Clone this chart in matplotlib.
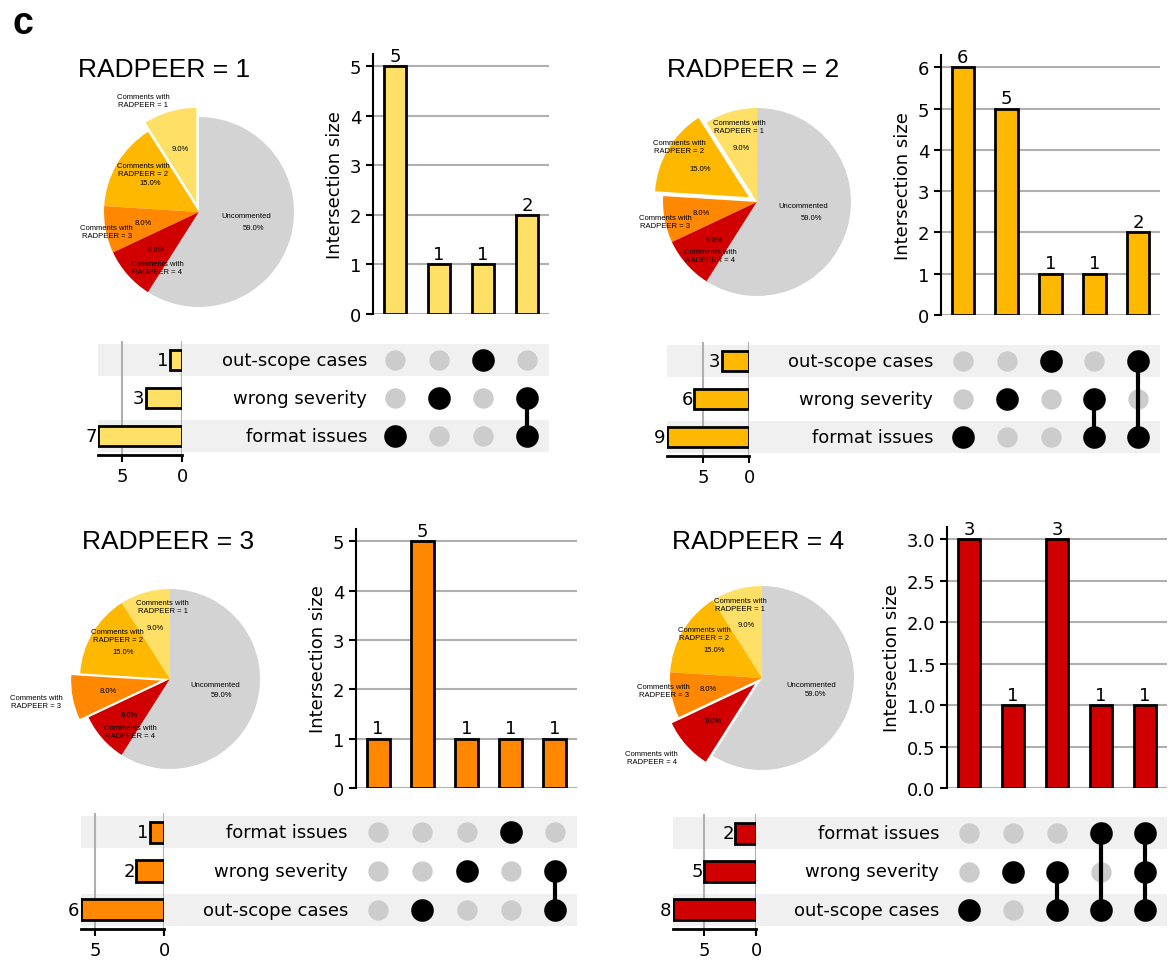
import matplotlib as mpl
import matplotlib.pyplot as plt
from matplotlib.patches import Rectangle

mpl.rcParams["font.size"] = 13
mpl.rcParams["axes.linewidth"] = 1.5

W, H = 1171, 962
PIE_FONT = ["Liberation Sans", "DejaVu Sans"]

# ---- data ----
pie_labels = ["Comments with\nRADPEER = 1", "Comments with\nRADPEER = 2",
              "Comments with\nRADPEER = 3", "Comments with\nRADPEER = 4",
              "Uncommented"]
pie_shares = [9.0, 15.0, 8.0, 9.0, 59.0]
pie_colors = ["#FFE066", "#FFB800", "#FF8800", "#D00000", "#D3D3D3"]

radpeer_levels = [1, 2, 3, 4]

rows_1 = ["out-scope cases", "wrong severity", "format issues"]
totals_1 = [1, 3, 7]
combos_1 = [["format issues"], ["wrong severity"], ["out-scope cases"],
            ["wrong severity", "format issues"]]
sizes_1 = [5, 1, 1, 2]

rows_2 = ["out-scope cases", "wrong severity", "format issues"]
totals_2 = [3, 6, 9]
combos_2 = [["format issues"], ["wrong severity"], ["out-scope cases"],
            ["wrong severity", "format issues"],
            ["out-scope cases", "format issues"]]
sizes_2 = [6, 5, 1, 1, 2]

rows_3 = ["format issues", "wrong severity", "out-scope cases"]
totals_3 = [1, 2, 6]
combos_3 = [[], ["out-scope cases"], ["wrong severity"], ["format issues"],
            ["wrong severity", "out-scope cases"]]
sizes_3 = [1, 5, 1, 1, 1]

rows_4 = ["format issues", "wrong severity", "out-scope cases"]
totals_4 = [2, 5, 8]
combos_4 = [["out-scope cases"], ["wrong severity"],
            ["wrong severity", "out-scope cases"],
            ["format issues", "out-scope cases"],
            ["format issues", "wrong severity", "out-scope cases"]]
sizes_4 = [3, 1, 3, 1, 1]

panel_data = [
    (rows_1, totals_1, combos_1, sizes_1),
    (rows_2, totals_2, combos_2, sizes_2),
    (rows_3, totals_3, combos_3, sizes_3),
    (rows_4, totals_4, combos_4, sizes_4),
]

# ---- layout (pixel boxes: x0, y_top, x1, y_bottom) ----
layouts = [
    dict(title=(78, 70), pie=(199, 213, 95), inter=(373, 55, 549, 315),
         mat=(373, 342, 549, 456), tot=(98, 342, 182, 456), label_x=367,
         lab_pos=[(-0.59, 1.17), (-0.59, 0.45), (-0.97, -0.21), (-0.44, -0.58), (0.50, -0.04)]),
    dict(title=(667, 70), pie=(757, 203, 94), inter=(941, 56, 1160, 316),
         mat=(941, 343, 1160, 457), tot=(667, 343, 749, 457), label_x=933,
         lab_pos=[(-0.19, 0.80), (-0.83, 0.59), (-0.98, -0.21), (-0.50, -0.57), (0.49, -0.04)]),
    dict(title=(82, 542), pie=(170, 680, 90), inter=(356, 530, 577, 789),
         mat=(356, 814, 577, 930), tot=(81, 814, 164, 930), label_x=348,
         lab_pos=[(-0.08, 0.81), (-0.58, 0.48), (-1.49, -0.25), (-0.44, -0.58), (0.50, -0.06)]),
    dict(title=(672, 542), pie=(762, 679, 92), inter=(947, 528, 1167, 789),
         mat=(947, 815, 1167, 930), tot=(673, 815, 756, 930), label_x=939,
         lab_pos=[(-0.24, 0.80), (-0.63, 0.48), (-1.07, -0.14), (-1.20, -0.86), (0.54, -0.07)]),
]

fig = plt.figure(figsize=(W / 100, H / 100), dpi=100)


def frac(x0, y0, x1, y1):
    return [x0 / W, 1 - y1 / H, (x1 - x0) / W, (y1 - y0) / H]


fig.text(12 / W, 1 - 24 / H, "c", fontsize=27, fontweight="bold",
         family=PIE_FONT, ha="left", va="center")

for idx, (level, (rows, totals, combos, sizes), lay) in enumerate(
        zip(radpeer_levels, panel_data, layouts)):
    color = pie_colors[idx]

    # title
    tx, ty = lay["title"]
    fig.text(tx / W, 1 - ty / H, f"RADPEER = {level}", fontsize=19,
             family=PIE_FONT, ha="left", va="center")

    # pie
    cx, cy, r = lay["pie"]
    ext = 1.6
    ax_pie = fig.add_axes(frac(cx - ext * r, cy - ext * r, cx + ext * r, cy + ext * r))
    explode = [0.1 if i == idx else 0 for i in range(len(pie_shares))]
    wedges, _, autotexts = ax_pie.pie(pie_shares, colors=pie_colors, startangle=90,
                                      explode=explode, autopct="%1.1f%%",
                                      pctdistance=0.6,
                                      wedgeprops=dict(linewidth=0),
                                      textprops=dict(fontsize=5.5, family=PIE_FONT))
    for (lx, ly), lab in zip(lay["lab_pos"], pie_labels):
        ax_pie.text(lx, ly, lab, ha="center", va="center", fontsize=5.5,
                    family=PIE_FONT)
    ax_pie.set_xlim(-ext, ext)
    ax_pie.set_ylim(-ext, ext)
    ax_pie.set_aspect("equal")
    ax_pie.axis("off")

    n_cols = len(sizes)
    n_rows = len(rows)

    # intersection bars
    ax_i = fig.add_axes(frac(*lay["inter"]))
    xs = list(range(n_cols))
    ax_i.bar(xs, sizes, width=0.52, color=color, edgecolor="black",
             linewidth=2, zorder=3)
    for x, v in zip(xs, sizes):
        ax_i.annotate(str(v), (x, v), xytext=(0, 1), textcoords="offset points",
                      ha="center", va="bottom", fontsize=13)
    ax_i.set_xlim(-0.5, n_cols - 0.5)
    ax_i.set_ylim(0, max(sizes) * 1.05)
    ax_i.yaxis.grid(True, color="#b0b0b0", linewidth=1.5, zorder=0)
    ax_i.set_axisbelow(True)
    ax_i.set_xticks([])
    for s in ["top", "right", "bottom"]:
        ax_i.spines[s].set_visible(False)
    ax_i.tick_params(axis="y", length=5, width=1.5, labelsize=13)
    ax_i.set_ylabel("Intersection size", fontsize=13)
    if max(sizes) == 3:
        ax_i.set_yticks([0.0, 0.5, 1.0, 1.5, 2.0, 2.5, 3.0])
        ax_i.set_yticklabels([f"{t:.1f}" for t in [0.0, 0.5, 1.0, 1.5, 2.0, 2.5, 3.0]])
    ax_i.patch.set_alpha(0)

    # matrix
    ax_m = fig.add_axes(frac(*lay["mat"]))
    ax_m.set_xlim(-0.5, n_cols - 0.5)
    ax_m.set_ylim(-0.5, n_rows - 0.5)
    ax_m.axis("off")
    for j, combo in enumerate(combos):
        active = []
        for i, name in enumerate(rows):
            y = n_rows - 1 - i
            if name in combo:
                active.append(y)
            else:
                ax_m.scatter(j, y, s=215, color="#cccccc", zorder=2, linewidth=0)
        if active:
            ax_m.plot([j, j], [min(active), max(active)], color="black",
                      linewidth=3, zorder=3)
            ax_m.scatter([j] * len(active), active, s=265, color="black",
                         zorder=4, linewidth=0)

    # totals
    ax_t = fig.add_axes(frac(*lay["tot"]))
    ys = [n_rows - 1 - i for i in range(n_rows)]
    ax_t.barh(ys, totals, height=0.55, color=color, edgecolor="black",
              linewidth=2, zorder=3)
    for y, v in zip(ys, totals):
        ax_t.annotate(str(v), (v, y), xytext=(-1, 0), textcoords="offset points",
                      ha="right", va="center", fontsize=13)
    ax_t.set_xlim(max(totals), 0)
    ax_t.set_ylim(-0.5, n_rows - 0.5)
    ax_t.set_xticks([5, 0])
    ax_t.xaxis.grid(True, color="#b0b0b0", linewidth=1.5, zorder=0)
    ax_t.set_axisbelow(True)
    ax_t.set_yticks([])
    for s in ["top", "right", "left"]:
        ax_t.spines[s].set_visible(False)
    ax_t.spines["bottom"].set_linewidth(2)
    ax_t.tick_params(axis="x", length=5, width=1.5, labelsize=13)
    ax_t.patch.set_alpha(0)

    # row labels + shading
    mx0, my0, mx1, my1 = lay["mat"]
    row_h = (my1 - my0) / n_rows
    tot_x0 = lay["tot"][0]
    for i, name in enumerate(rows):
        yc = my0 + (i + 0.5) * row_h
        fig.text(lay["label_x"] / W, 1 - yc / H, name, ha="right", va="center",
                 fontsize=13)
        if i % 2 == 0:
            sh = 32
            fig.add_artist(Rectangle(((tot_x0) / W, 1 - (yc + sh / 2) / H),
                                     (mx1 - tot_x0) / W, sh / H,
                                     transform=fig.transFigure, color="#f0f0f0",
                                     linewidth=0, zorder=-1))

fig.savefig("out.png", dpi=100)
